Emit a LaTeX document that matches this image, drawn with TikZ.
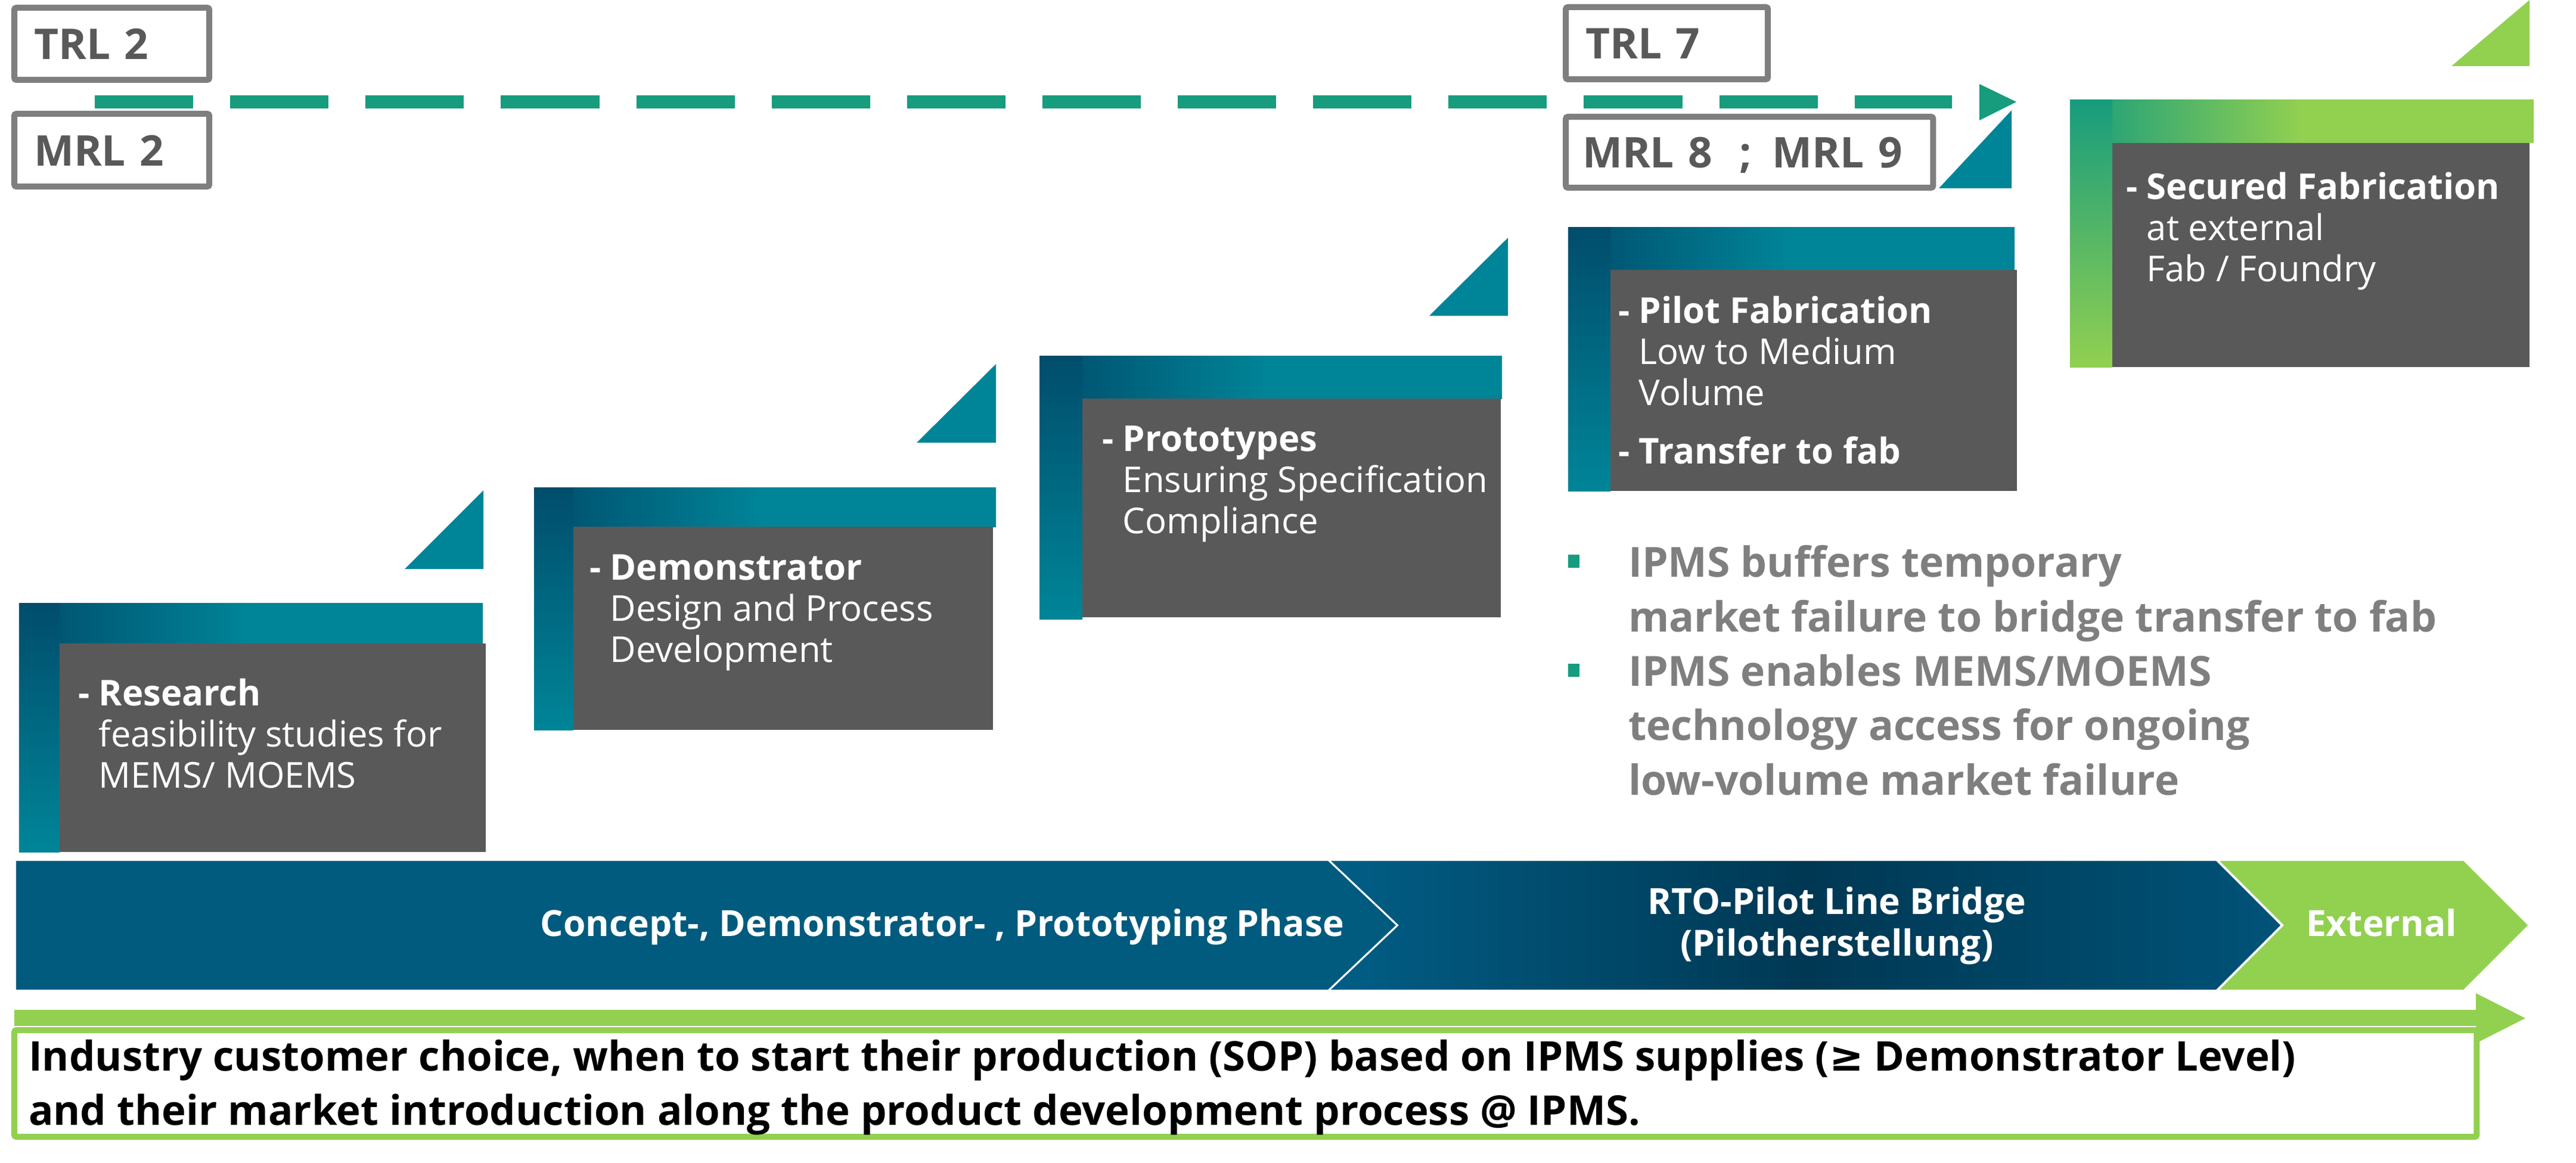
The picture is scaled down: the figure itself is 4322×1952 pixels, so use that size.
\documentclass[tikz,border=0pt]{standalone}
\usepackage{fontspec}
\setmainfont{Open Sans}
\newfontfamily\symbolfont{DejaVu Sans}
\usepackage{xcolor}
\usetikzlibrary{
    arrows.meta,
    shapes,
    positioning,
    calc
}
\definecolor{fhgreen}{HTML}{179C7D}
\definecolor{fhblue}{HTML}{005B7F}
\definecolor{fhteal}{HTML}{008598}
\definecolor{fhdark}{HTML}{004D6C}
\definecolor{lightgreen}{HTML}{92D050}
\definecolor{boxgray}{HTML}{595959}
\definecolor{rimgray}{HTML}{7F7F7F}
\definecolor{bridgeleft}{HTML}{015E86}
\definecolor{bridgedark}{HTML}{003853}
\definecolor{bridgeright}{HTML}{005378}
\tikzset{%
    % Specifications for style of nodes:
    plain/.style = {inner sep=0pt, outer sep=0pt},
    level/.style = {
        plain,
        rectangle, rounded corners=1pt, draw=rimgray, line width=0.1cm,
        fill=white, anchor=north west, inner xsep=0.33cm,
        text height=0.52cm, text depth=0pt, align=left,
        text=boxgray, font=\fontsize{20.2}{24}\selectfont\bfseries
    },
    body/.style = {plain, rectangle, fill=boxgray, anchor=north west},
    % multi-line texts sit on the baseline of their last line
    bodytext/.style = {
        plain, anchor=base west, align=left, text=white,
        font=\fontsize{17}{19.6}\selectfont
    },
    frametop/.style = {left color=fhdark, right color=fhteal, middle color=fhteal},
    frameleft/.style = {top color=fhdark, bottom color=fhteal},
    greentop/.style = {left color=fhgreen, right color=lightgreen, middle color=lightgreen},
    greenleft/.style = {top color=fhgreen, bottom color=lightgreen},
    track/.style = {draw=fhgreen, line width=0.21cm, dash pattern=on 1.65cm off 0.62cm},
    bulletmark/.style = {plain, rectangle, fill=fhgreen, minimum width=0.19cm, minimum height=0.22cm},
    bullettext/.style = {
        plain, anchor=base west, align=left, text=rimgray,
        font=\fontsize{19.8}{25.9}\selectfont\bfseries
    },
    phasetext/.style = {
        plain, align=center, text=white,
        font=\fontsize{17.2}{19.9}\selectfont\bfseries
    },
    choicebox/.style = {
        plain, rectangle, rounded corners=1pt, draw=lightgreen,
        line width=0.1cm, fill=white, anchor=north west
    },
    choicetext/.style = {
        plain, anchor=base west, align=left, text=black,
        font=\fontsize{19.6}{25.6}\selectfont\bfseries
    }
}

\begin{document}
\begin{tikzpicture}[x=0.01cm, y=-0.01cm]
\useasboundingbox (0,0) rectangle (4322,1952);

% readiness levels
\node[level, text width=2.61cm, minimum height=1.21cm] (trl2) at (24,13) {TRL 2};
\node[level, text width=2.61cm, minimum height=1.22cm] (mrl2) at (24,191) {MRL 2};
\node[level, text width=2.73cm, minimum height=1.21cm] (trl7) at (2627,12) {TRL 7};
\node[level, text width=5.60cm, inner xsep=0.28cm, minimum height=1.19cm] (mrl89) at (2627,196) {MRL 8\hspace{0.45cm};\hspace{0.35cm}MRL 9};

% dashed track from TRL 2 to TRL 7
\coordinate (trackstart) at (159,171);
\coordinate (trackend) at (3275,171);
\coordinate (tracktip) at (3383,171);
\draw[track] (trackstart) -- (trackend);
\fill[fhgreen] ($(tracktip)+(-62,-30)$) -- (tracktip) -- ($(tracktip)+(-62,31)$) -- cycle;

% step 1: research
\shade[frametop] (32,1012) rectangle (810,1080);
\shade[frameleft] (32,1012) rectangle (100,1430);
\node[body, minimum width=7.15cm, minimum height=3.50cm] (research) at (100,1080) {};
\fill[fhteal] (679,955) -- (811,955) -- (811,823) -- cycle;
\node[bodytext] (researchtxt) at (131,1322) {\textbf{- Research}\\\hphantom{\textbf{- }}feasibility studies for\\\hphantom{\textbf{- }}MEMS/ MOEMS};

% step 2: demonstrator
\shade[frametop] (896,818) rectangle (1671,884);
\shade[frameleft] (896,818) rectangle (962,1225);
\node[body, minimum width=7.04cm, minimum height=3.41cm] (demo) at (962,884) {};
\fill[fhteal] (1538,743) -- (1671,743) -- (1671,611) -- cycle;
\node[bodytext] (demotxt) at (989,1111) {\textbf{- Demonstrator}\\\hphantom{\textbf{- }}Design and Process\\\hphantom{\textbf{- }}Development};

% step 3: prototypes
\shade[frametop] (1744,597) rectangle (2520,669);
\shade[frameleft] (1744,597) rectangle (1816,1039);
\node[body, minimum width=7.02cm, minimum height=3.67cm] (proto) at (1816,669) {};
\fill[fhteal] (2398,530) -- (2530,530) -- (2530,399) -- cycle;
\node[bodytext] (prototxt) at (1849,895) {\textbf{- Prototypes}\\\hphantom{\textbf{- }}Ensuring Specification\\\hphantom{\textbf{- }}Compliance};

% step 4: pilot fabrication
\shade[frametop] (2631,382) rectangle (3380,453);
\shade[frameleft] (2631,382) rectangle (2702,824);
\node[body, minimum width=6.82cm, minimum height=3.71cm] (pilot) at (2702,453) {};
\fill[fhteal] (3253,316) -- (3375,316) -- (3375,185) -- cycle;
\node[bodytext] (pilottxt) at (2715,778) {\textbf{- Pilot Fabrication}\\\hphantom{\textbf{- }}Low to Medium\\\hphantom{\textbf{- }}Volume\\[0.29cm]\textbf{- Transfer to fab}};

% step 5: secured fabrication
\shade[greentop] (3473,168) rectangle (4251,240);
\shade[greenleft] (3473,168) rectangle (3544,616);
\node[body, minimum width=7.00cm, minimum height=3.76cm] (secured) at (3544,240) {};
\fill[lightgreen] (4113,111) -- (4244,111) -- (4244,0) -- cycle;
\node[bodytext] (securedtxt) at (3567,472) {\textbf{- Secured Fabrication}\\\hphantom{\textbf{- }}at external\\\hphantom{\textbf{- }}Fab / Foundry};

% bullets
\node[bulletmark] (markbuffer) at (2640,942) {};
\node[bullettext] (buffer) at (2732,1060) {IPMS buffers temporary\\market failure to bridge transfer to fab};
\node[bulletmark] (markaccess) at (2640,1125) {};
\node[bullettext] (access) at (2732,1334) {IPMS enables MEMS/MOEMS\\technology access for ongoing\\low-volume market failure};

% phase chevrons
\fill[fhblue] (27,1445) -- (2228,1445) -- (2342,1553) -- (2228,1661) -- (27,1661) -- cycle;
\shade[left color=bridgeleft, right color=bridgeright, middle color=bridgedark]
    (2233,1445) -- (3718,1445) -- (3826,1553) -- (3718,1661) -- (2233,1661) -- (2347,1553) -- cycle;
\fill[lightgreen] (3724,1445) -- (4133,1445) -- (4241,1553) -- (4133,1661) -- (3724,1661) -- (3832,1553) -- cycle;
\node[phasetext, anchor=base east] (concept) at (2255,1571) {Concept-, Demonstrator- , Prototyping Phase};
\node[phasetext, anchor=base] (bridge) at (3082,1604) {RTO-Pilot Line Bridge\\(Pilotherstellung)};
\node[phasetext, anchor=base west] (external) at (3869,1571) {External};

% customer choice arrow
\fill[lightgreen] (24,1695) rectangle (4154,1722);
\fill[lightgreen] (4154,1667) -- (4237,1709) -- (4154,1751) -- cycle;
\node[choicebox, minimum width=41.29cm, minimum height=1.79cm] (choice) at (24,1729) {};
\node[choicetext] (choicetxt) at (48,1888) {Industry customer choice, when to start their production (SOP) based on IPMS supplies ({\symbolfont\bfseries ≥} Demonstrator Level)\\and their market introduction along the product development process @ IPMS.};
\end{tikzpicture}
\end{document}
